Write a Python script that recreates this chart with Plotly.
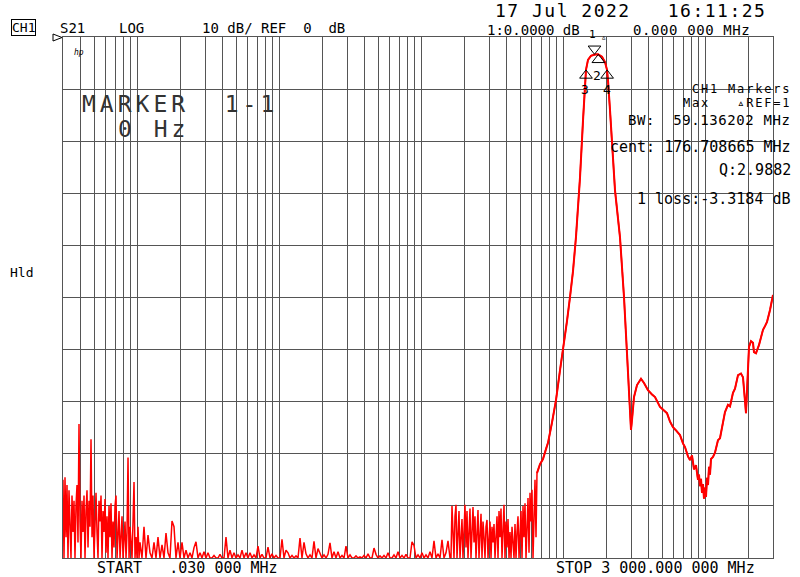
import numpy as np
import plotly.graph_objects as go

# --- trace data (S21, log magnitude, dB) ---
# noise floor parts are levels on the instrument's log sweep between the given stop/start freqs
NOISE_A_START, NOISE_A_STOP = 0.03, 0.1046      # MHz
noise_a_db = [
    -85, -100, -84.5, -96, -86, -100, -87, -92, -100, -88,
    -95, -89, -100, -90, -86, -97, -74.3, -93, -100, -89,
    -95, -88, -100, -91, -87, -98, -89, -94, -77.2, -96,
    -88, -100, -90, -87.5, -95, -100, -89, -93, -88, -100,
    -91, -95, -88.7, -99, -92, -100, -90, -96, -89.5, -100,
    -93, -98, -90, -88, -100, -94, -91, -100, -96, -92,
    -100, -97, -93, -100, -95, -80.7, -100, -94, -97, -100,
    -93, -85.4, -100, -96, -100, -94, -100, -97,
]

NOISE_B_START, NOISE_B_STOP = 0.108, 15.94
noise_b_db = [
    -100, -94, -100, -95.6, -99, -100, -97, -100, -96, -100,
    -97.5, -100, -95.2, -99, -100, -92.9, -94, -100, -97, -100,
    -97, -100, -98.5, -100, -99, -100, -98, -96.9, -100, -99,
    -100, -98.8, -100, -99, -100, -100, -99.5, -100, -100, -99.3,
    -100, -100, -96, -100, -98.5, -100, -99, -100, -99.4, -100,
    -98.5, -100, -99, -100, -99, -100, -99.4, -100, -97.7, -100,
    -99.3, -100, -100, -97.9, -100, -99.2, -100, -99.5, -100, -100,
    -96.4, -100, -98.5, -99, -100, -99.5, -100, -99.6, -100, -96.2,
    -100, -97, -99.2, -100, -99.4, -100, -96.8, -100, -98.2, -99.2,
    -100, -99.4, -100, -99.3, -97.1, -100, -98.8, -100, -98.8, -100,
    -99.5, -100, -97.7, -100, -99.4, -100, -100, -99.6, -100, -99.8,
    -100, -99.5, -100, -99.2, -100, -100, -98.1, -99.3, -100, -99.6,
    -100, -99.5, -100, -99, -100, -100, -99.4, -100, -98.8, -100,
    -99.5, -100, -99.3, -100, -100, -96.9, -97.6, -100, -99.4, -100,
    -99, -100, -99.4, -100, -98.8, -100, -96.7, -100, -99.2, -100,
    -96.5, -100, -99, -96.7, -100,
]

NOISE_C_START, NOISE_C_STOP = 16.2, 64.3
noise_c_db = [
    -100, -90, -95, -100, -92, -89.8, -100, -94, -91, -100,
    -96, -92.5, -100, -93, -89.8, -98, -91, -100, -95, -90.5,
    -100, -93, -90.2, -97, -92, -100, -94, -90.8, -100, -95,
    -91.5, -100, -93, -96, -100, -94, -92.7, -100, -95.5, -93,
    -100, -94, -97, -93.5, -100, -95, -92, -100, -91, -96,
    -90.5, -100, -94, -89.8, -100, -93, -98, -92.5, -100, -95,
    -100, -94, -97, -100, -93.5, -100, -95, -92, -100, -94,
    -91, -100, -90, -96, -89.5, -100, -92, -88.5, -99, -87.5,
    -93, -86.9, -100, -88, -85, -96,
]

# filter response above the noise
resp_freq = [
    65.33, 68.60, 72.01, 75.60, 78.09, 83.34, 88.90, 94.87, 99.59, 106.3,
    111.6, 117.1, 122.9, 131.2, 137.8, 144.6, 149.4, 156.8, 167.3, 175.7,
    187.5, 196.8, 203.3, 206.6, 213.4, 220.4, 231.4, 250.9, 267.8, 281.1,
    290.4, 300.0, 304.9, 315.0, 330.7, 352.8, 370.4, 395.3, 421.7, 442.8,
    480.1, 512.2, 537.8, 564.6, 592.8, 622.3, 664.0, 697.0, 720.0, 755.9,
    780.8, 806.5, 833.1, 860.6, 888.9, 903.5, 918.3, 933.4, 948.7, 964.1,
    979.9, 995.9, 1012.2, 1028.8, 1045.7, 1062.7, 1080.0, 1097.7, 1134, 1171,
    1229, 1270, 1334, 1377, 1446, 1494, 1568, 1620, 1701, 1785,
    1844, 1905, 1936, 1968, 2033, 2100, 2169, 2204, 2277, 2391,
    2470, 2551, 2635, 2722, 2858, 3000,
]
resp_db = [
    -83.7, -82.0, -81.0, -79.0, -77.9, -74.0, -69.7, -64.0, -60.1, -54.5,
    -49.9, -45.0, -38.4, -27.0, -16.0, -6.3, -4.4, -3.6, -3.35, -3.32,
    -3.8, -4.8, -6.3, -8.3, -14.0, -19.8, -29.4, -38.4, -49.9, -60.7,
    -67.8, -75.4, -73.5, -69.1, -66.8, -65.6, -66.4, -67.8, -68.6, -69.1,
    -71.0, -71.8, -72.2, -73.8, -74.9, -75.5, -76.4, -78.0, -78.7, -80.5,
    -81.2, -80.3, -83.0, -82.2, -85.0, -84.0, -86.2, -84.8, -87.5, -85.8,
    -88.6, -86.5, -88.3, -84.6, -86.0, -82.5, -84.0, -81.0, -80.6, -79.8,
    -77.4, -77.0, -74.1, -72.0, -70.6, -70.9, -68.3, -67.5, -64.9, -64.6,
    -65.3, -69.0, -72.2, -68.0, -59.5, -58.4, -58.7, -60.5, -60.7, -59.1,
    -57.4, -56.2, -55.5, -54.7, -52.4, -49.5,
]

# markers 1..4
marker_freq = [166.0, 176.7, 144.6, 203.7]
marker_db = [-3.32, -3.32, -6.32, -6.32]

F_START, F_STOP = 0.03, 3000.0
REF_DB, DB_PER_DIV, N_DIV = 0.0, 10.0, 10

MONO = "DejaVu Sans Mono"

# plot box in pixels (800 x 577 page)
L, R, T, B = 63, 773, 37, 558


def px(x, y):
    return (x - L) / (R - L), (B - y) / (B - T)


def ann(text, x, y, size=15, xanchor="left", **extra):
    ax, ay = px(x, y)
    d = dict(text=text, x=ax, y=ay, xref="paper", yref="paper",
             xanchor=xanchor, yanchor="middle", showarrow=False,
             font=dict(family=MONO, size=size, color="black"))
    d.update(extra)
    return d


def spaced(text, gap):
    return f'<span style="letter-spacing:{gap}px">{text}</span>'


freq = np.concatenate([
    np.geomspace(NOISE_A_START, NOISE_A_STOP, len(noise_a_db)),
    np.geomspace(NOISE_B_START, NOISE_B_STOP, len(noise_b_db)),
    np.geomspace(NOISE_C_START, NOISE_C_STOP, len(noise_c_db)),
    resp_freq,
])
level = np.concatenate([noise_a_db, noise_b_db, noise_c_db, resp_db])

fig = go.Figure()
fig.add_trace(go.Scatter(x=freq, y=level, mode="lines",
                         line=dict(color="#ff0000", width=1.5), hoverinfo="skip"))
fig.add_trace(go.Scatter(x=resp_freq, y=resp_db, mode="lines",
                         line=dict(color="#ff0000", width=2), hoverinfo="skip"))

# marker symbols: apex sits on the trace, so shift by half the symbol size
msize = 11
db_per_px = DB_PER_DIV * N_DIV / (B - T)
sym = ["triangle-down-open"] + ["triangle-up-open"] * 3
my = [marker_db[0] + msize / 2 * db_per_px] + [v - msize / 2 * db_per_px for v in marker_db[1:]]
fig.add_trace(go.Scatter(x=marker_freq, y=my, mode="markers", cliponaxis=False,
                         marker=dict(symbol=sym, size=msize, color="black",
                                     line=dict(color="black", width=1)),
                         hoverinfo="skip"))

grid_vals = [m * 10.0 ** k for k in range(-2, 4) for m in range(1, 10)]
grid_vals = [v for v in grid_vals if F_START < v < F_STOP]

fig.update_xaxes(type="log", range=[np.log10(F_START), np.log10(F_STOP)],
                 tickvals=grid_vals, showticklabels=False, ticks="",
                 showgrid=True, gridcolor="#555", gridwidth=1, zeroline=False,
                 showline=True, mirror=True, linecolor="#555", linewidth=1)
fig.update_yaxes(range=[REF_DB - DB_PER_DIV * N_DIV, REF_DB], dtick=DB_PER_DIV,
                 showticklabels=False, ticks="",
                 showgrid=True, gridcolor="#555", gridwidth=1, zeroline=False,
                 showline=True, mirror=True, linecolor="#555", linewidth=1)

big = dict(family=MONO, size=23, color="#333")

annotations = [
    ann("CH1", 11, 28, 13, bordercolor="black", borderwidth=1, borderpad=0),
    ann("S21", 58, 28, 14),
    ann("LOG", 117, 28, 14),
    ann("10 dB/ REF  0  dB", 200, 28, 14),
    ann(spaced("17 Jul 2022   16:11:25", 1.5), 493, 11, 18),
    ann("1:0.0000 dB", 485, 30, 14),
    ann(spaced("0.000 000 MHz", 0.6), 631, 30, 14),
    ann("hp", 72, 53, 8, font=dict(family=MONO, size=8, color="black", style="italic")),
    ann(spaced("MARKER  1-1", 4), 80, 104, font=big),
    ann(spaced("0 Hz", 4), 116, 129, font=big),
    ann("Hld", 8, 272, 13),
    ann(spaced("CH1 Markers", 1.8), 793, 89, 12, xanchor="right"),
    ann(spaced("Max   \u25b5REF=1", 1.8), 793, 103, 12, xanchor="right"),
    ann(spaced("BW:  59.136202 MHz", 0.6), 793, 120, 14, xanchor="right"),
    ann("cent: 176.708665 MHz", 793, 147, 15, xanchor="right"),
    ann("Q:2.9882", 793, 170, 15, xanchor="right"),
    ann("1 loss:-3.3184 dB", 793, 199, 15, xanchor="right"),
    ann("START   .030 000 MHz", 95, 568, 15),
    ann("STOP 3 000.000 000 MHz", 554, 568, 15),
    ann("1", 592, 35, 11, xanchor="center"),
    ann("\u25b5", 603, 37, 9, xanchor="center"),
    ann("2", 597, 75, 13, xanchor="center"),
    ann("3", 585, 89, 13, xanchor="center"),
    ann("4", 607, 89, 13, xanchor="center"),
]

# reference level pointer at the left edge
p1, p2, p3 = px(53, 34), px(53, 41), px(62, 37.5)
ref_path = f"M{p1[0]},{p1[1]} L{p2[0]},{p2[1]} L{p3[0]},{p3[1]} Z"

fig.update_layout(
    width=800, height=577,
    margin=dict(l=L, r=800 - R, t=T, b=577 - B),
    paper_bgcolor="white", plot_bgcolor="white",
    showlegend=False,
    annotations=annotations,
    shapes=[dict(type="path", path=ref_path, xref="paper", yref="paper",
                 line=dict(color="black", width=1))],
)

# page body has a default 8px margin; drop it so the figure fills the window
fig.write_html("out.html", config={"displayModeBar": False},
               post_script="document.body.style.margin='0';")
